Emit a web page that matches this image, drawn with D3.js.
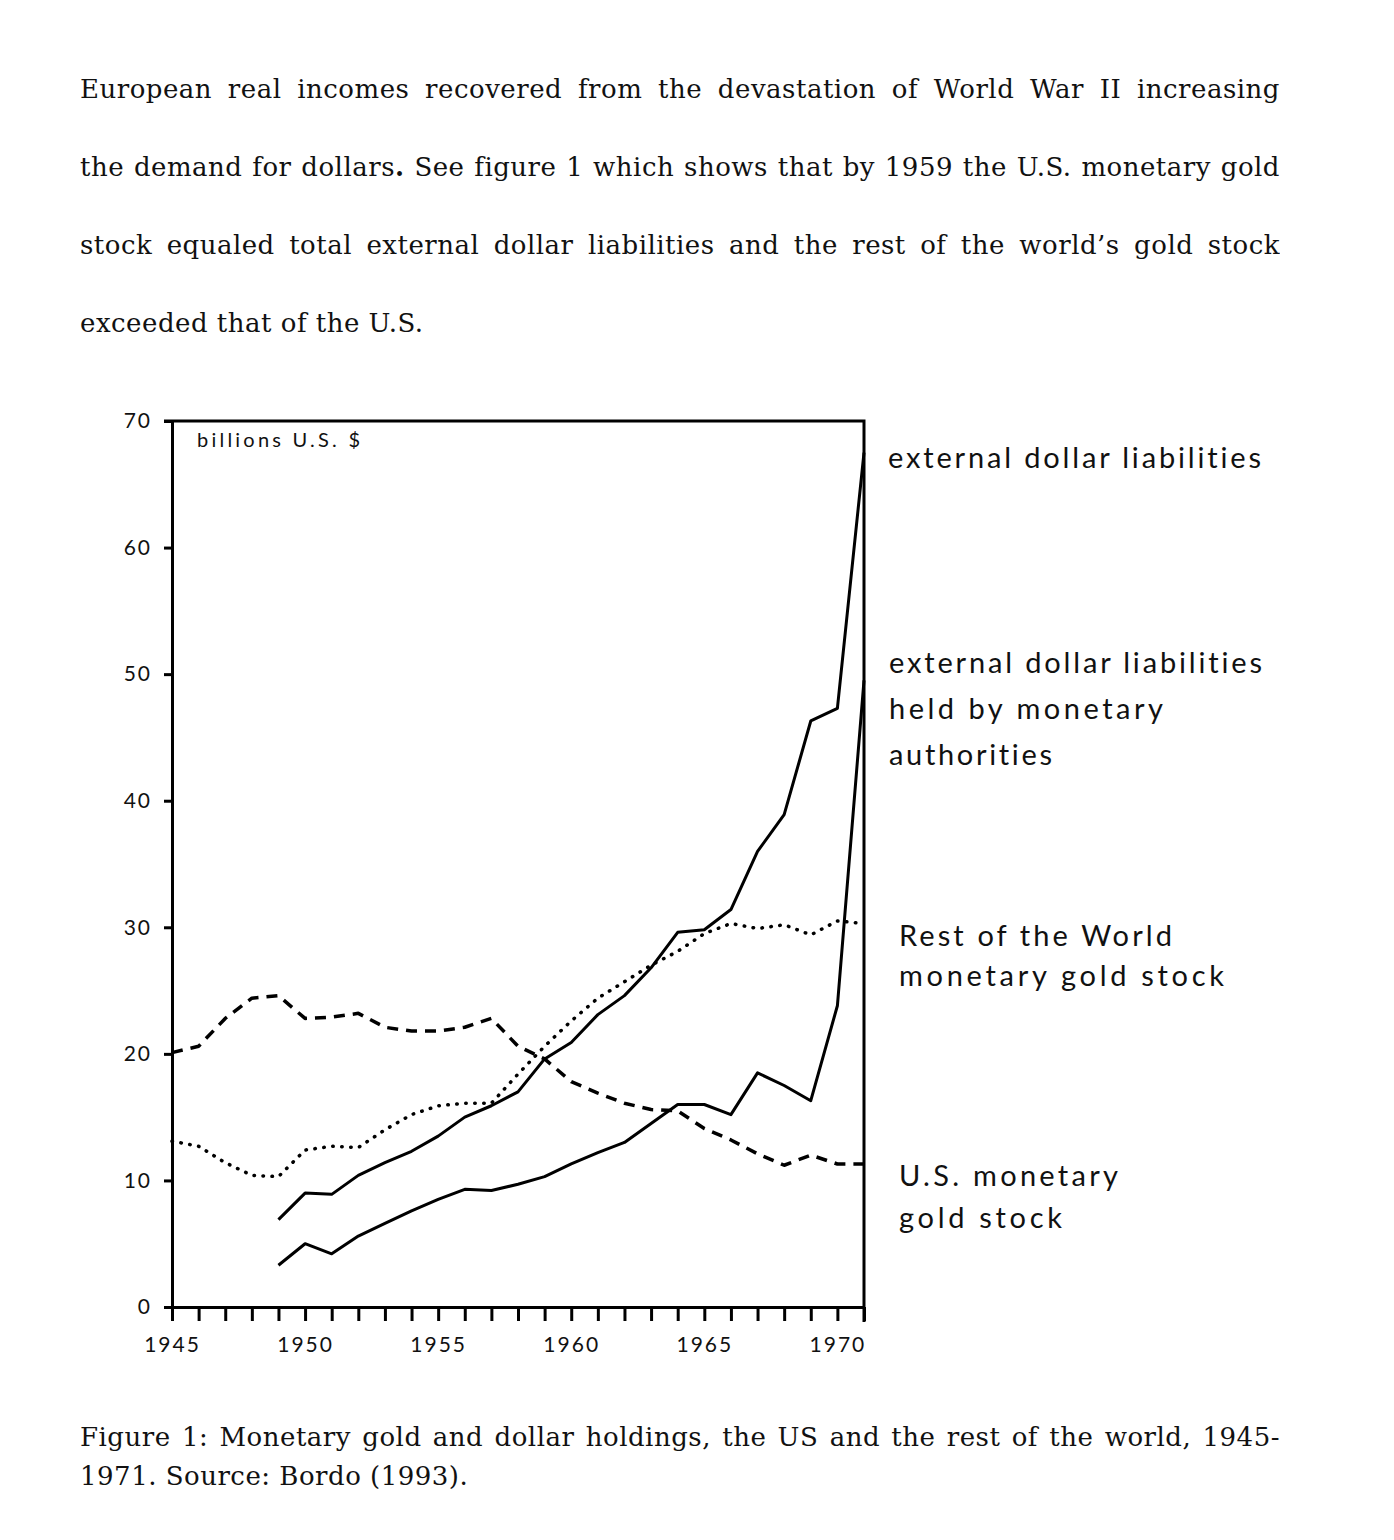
<!DOCTYPE html>
<meta charset="utf-8">
<style>
    body {
        margin: 0;
        background: #fff;
        width: 1394px;
        height: 1540px;
        position: relative;
        overflow: hidden;
    }
    .para, .caption {
        position: absolute;
        left: 80px;
        width: 1200px;
        font-family: "DejaVu Serif", serif;
        font-size: 26px;
        letter-spacing: 0.5px;
        color: #111;
    }
    .para { top: 50px; }
    .para div {
        height: 78px;
        line-height: 78px;
        text-align: justify;
        text-align-last: justify;
        overflow: hidden;
    }
    .caption { top: 1418px; }
    .caption div {
        height: 39px;
        line-height: 39px;
        text-align: justify;
        text-align-last: justify;
        overflow: hidden;
    }
    .para div.last, .caption div.last { text-align-last: left; }
    svg {
        position: absolute;
        left: 0;
        top: 0;
    }
    .axis text {
        font-family: Lato, sans-serif;
        font-size: 21px;
        letter-spacing: 2px;
        fill: #111;
    }
    .axis path, .axis line {
        stroke: #000;
        stroke-width: 3px;
    }
    .series {
        fill: none;
        stroke: #000;
        stroke-linejoin: round;
    }
    .label {
        font-family: Lato, sans-serif;
        font-size: 29px;
        font-variant-ligatures: none;
        fill: #111;
    }
</style>
<body>
<div class="para">
    <div>European real incomes recovered from the devastation of World War II increasing</div>
    <div>the demand for dollars<b>.</b> See figure 1 which shows that by 1959 the U.S. monetary gold</div>
    <div>stock equaled total external dollar liabilities and the rest of the world’s gold stock</div>
    <div class="last">exceeded that of the U.S.</div>
</div>
<div class="caption">
    <div>Figure 1: Monetary gold and dollar holdings, the US and the rest of the world, 1945-</div>
    <div class="last">1971. Source: Bordo (1993).</div>
</div>
<svg width="1394" height="1540"></svg>
</body>
<script src="https://cdn.jsdelivr.net/npm/d3@7"></script>
<script>

    // years on the axis
    var years = d3.range(1945, 1972);
    var yearLabels = [1945, 1950, 1955, 1960, 1965, 1970];
    var valueTicks = [0, 10, 20, 30, 40, 50, 60, 70];

    // U.S. monetary gold stock, 1945-1971 (dashed)
    var usGold = [20.1, 20.6, 22.8, 24.4, 24.6, 22.8, 22.9, 23.2, 22.1, 21.8, 21.8, 22.1, 22.8,
        20.6, 19.6, 17.8, 16.9, 16.1, 15.6, 15.5, 14.1, 13.2, 12.1, 11.2, 12.0, 11.3, 11.3];

    // rest of the world monetary gold stock, 1945-1971 (dotted)
    var rowGold = [13.1, 12.7, 11.4, 10.4, 10.3, 12.4, 12.7, 12.6, 14.0, 15.2, 15.9, 16.1, 16.1,
        18.4, 20.6, 22.6, 24.4, 25.7, 27.0, 28.1, 29.5, 30.3, 29.9, 30.2, 29.4, 30.5, 30.3];

    // external dollar liabilities, 1949-1971
    var liabYears = d3.range(1949, 1972);
    var liabTotal = [6.9, 9.0, 8.9, 10.4, 11.4, 12.3, 13.5, 15.0, 15.9, 17.0, 19.6, 20.9,
        23.1, 24.6, 26.8, 29.6, 29.8, 31.4, 36.0, 38.9, 46.3, 47.3, 67.5];

    // external dollar liabilities held by monetary authorities, 1949-1971
    var liabOfficial = [3.3, 5.0, 4.2, 5.6, 6.6, 7.6, 8.5, 9.3, 9.2, 9.7, 10.3, 11.3,
        12.2, 13.0, 14.5, 16.0, 16.0, 15.2, 18.5, 17.5, 16.3, 23.8, 49.5];

    var labelLines = [
        ["external dollar liabilities"],
        ["external dollar liabilities", "held by monetary", "authorities"],
        ["Rest of the World", "monetary gold stock"],
        ["U.S. monetary", "gold stock"]
    ];

    // shrink a text line until it stays on one row
    d3.selectAll(".para div, .caption div").each(function () {
        var ls = 0.5, lh = parseFloat(getComputedStyle(this).lineHeight);
        this.style.height = "auto";
        while (this.offsetHeight > lh + 1 && ls > -1.5) {
            ls -= 0.25;
            this.style.letterSpacing = ls + "px";
        }
        this.style.height = lh + "px";
    });

    var svg = d3.select("svg");

    var x = d3.scaleLinear()
        .domain([1945, 1971])
        .range([172, 864]);

    var y = d3.scaleLinear()
        .domain([0, 70])
        .range([1307, 421]);

    // frame: top and right edges
    svg.append("path")
        .attr("d", "M" + (x(1945) - 8) + "," + y(70) + "H" + x(1971) + "V" + (y(0) + 15))
        .attr("fill", "none")
        .attr("stroke", "#000")
        .attr("stroke-width", 3);

    svg.append("g")
        .attr("class", "axis")
        .attr("transform", "translate(" + x(1945) + ",0)")
        .call(d3.axisLeft(y).tickValues(valueTicks).tickSize(8).tickSizeOuter(0).tickPadding(12));

    svg.append("g")
        .attr("class", "axis")
        .attr("transform", "translate(0," + y(0) + ")")
        .call(d3.axisBottom(x).tickValues(years).tickSize(14).tickSizeOuter(0).tickPadding(16)
            .tickFormat(function (d) { return yearLabels.indexOf(d) >= 0 ? d : ""; }));

    svg.append("text")
        .attr("class", "label")
        .attr("x", 197)
        .attr("y", 447)
        .style("font-size", "20px")
        .attr("textLength", 163)
        .text("billions U.S. $");

    var line = d3.line()
        .x(function (d) { return x(d[0]); })
        .y(function (d) { return y(d[1]); });

    function pairs(xs, vs) {
        return vs.map(function (v, i) { return [xs[i], v]; });
    }

    svg.append("path")
        .datum(pairs(years, usGold))
        .attr("class", "series")
        .attr("stroke-width", 3.5)
        .attr("stroke-dasharray", "11 8")
        .attr("d", line);

    svg.append("path")
        .datum(pairs(years, rowGold))
        .attr("class", "series")
        .attr("stroke-width", 3.5)
        .attr("stroke-linecap", "round")
        .attr("stroke-dasharray", "0.5 8.5")
        .attr("d", line);

    svg.append("path")
        .datum(pairs(liabYears, liabTotal))
        .attr("class", "series")
        .attr("stroke-width", 3)
        .attr("d", line);

    svg.append("path")
        .datum(pairs(liabYears, liabOfficial))
        .attr("class", "series")
        .attr("stroke-width", 3)
        .attr("d", line);

    // right-hand labels
    var labelPos = [
        {x: 888, y: 468, gap: 46, widths: [373]},
        {x: 889, y: 673, gap: 46, widths: [373, 274, 163]},
        {x: 899, y: 946, gap: 40, widths: [273, 325]},
        {x: 899, y: 1186, gap: 42, widths: [219, 163]}
    ];

    labelLines.forEach(function (lines, i) {
        var p = labelPos[i];
        lines.forEach(function (t, j) {
            svg.append("text")
                .attr("class", "label")
                .attr("x", p.x)
                .attr("y", p.y + j * p.gap)
                .attr("textLength", p.widths[j])
                .attr("lengthAdjust", "spacing")
                .text(t);
        });
    });

</script>
